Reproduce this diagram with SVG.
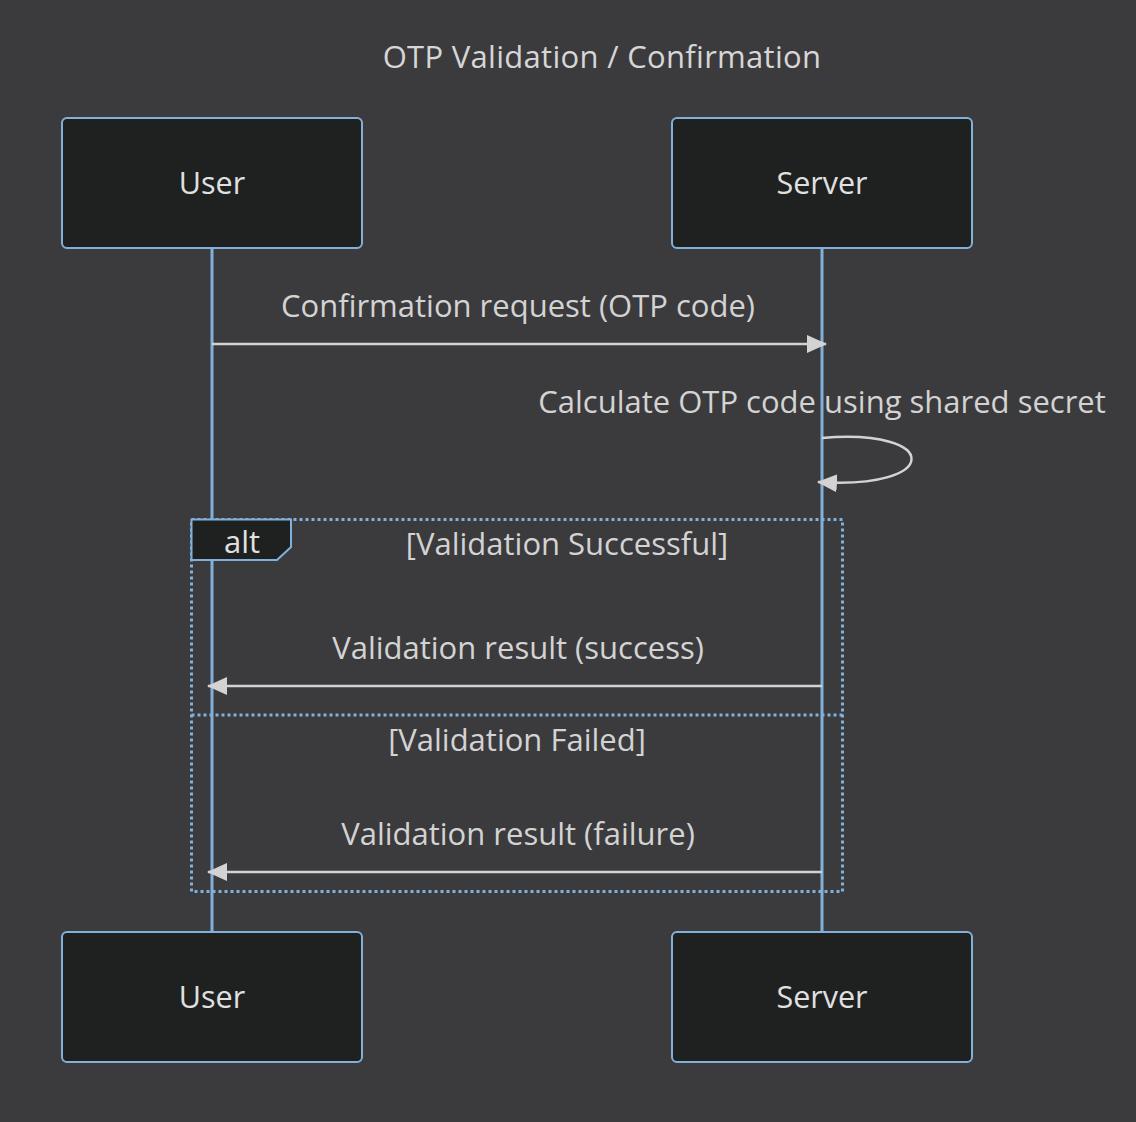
<svg xmlns="http://www.w3.org/2000/svg" width="1136" height="1122" viewBox="0 0 1136 1122">
<style>
.actor{fill:#1f2020;stroke:#81B1DB;stroke-width:2}
.atext{font-family:"Open Sans","Liberation Sans",sans-serif;font-size:30.5px;fill:#e0e0e0;text-anchor:middle;dominant-baseline:central}
.life{stroke:#81B1DB;stroke-width:3}
.msg{stroke:#d3d3d3;stroke-width:2.5;fill:none}
.mtext{font-family:"Open Sans","Liberation Sans",sans-serif;font-size:31px;fill:#d3d3d3;text-anchor:middle;dominant-baseline:central}
.loop{stroke:#81B1DB;stroke-width:3;fill:none;stroke-dasharray:3,3}
</style>
<defs>
<marker id="ah" markerWidth="20" markerHeight="20" refX="19" refY="9" orient="auto" markerUnits="userSpaceOnUse" viewBox="0 0 20 18">
<path d="M0,0 L20,9 L0,18 z" fill="#d3d3d3"/>
</marker>
</defs>
<rect width="1136" height="1122" fill="#3b3b3d"/>
<text x="602" y="56" class="mtext" style="fill:#d6d6d6;letter-spacing:0.3px">OTP Validation / Confirmation</text>
<g id="lifelines">
<line class="life" x1="212" y1="248" x2="212" y2="932"/>
<line class="life" x1="822" y1="248" x2="822" y2="932"/>
</g>
<g id="alt-frame">
<rect class="loop" x="191.5" y="519.5" width="651" height="372"/>
<line class="loop" x1="191.5" y1="715" x2="842.5" y2="715"/>
<polygon points="191.5,519.5 291,519.5 291,547 277,560 191.5,560" fill="#1f2020" stroke="#81B1DB" stroke-width="2"/>
<text x="242" y="541" class="mtext" style="fill:#e0e0e0">alt</text>
<text x="567" y="543" class="mtext">[Validation Successful]</text>
<text x="517" y="739" class="mtext">[Validation Failed]</text>
</g>
<g id="actor-user-top"><rect class="actor" x="62" y="118" width="300" height="130" rx="5"/><text x="212" y="182" class="atext">User</text></g>
<g id="actor-server-top"><rect class="actor" x="672" y="118" width="300" height="130" rx="5"/><text x="822" y="182" class="atext">Server</text></g>
<g id="actor-user-bottom"><rect class="actor" x="62" y="932" width="300" height="130" rx="5"/><text x="212" y="996" class="atext">User</text></g>
<g id="actor-server-bottom"><rect class="actor" x="672" y="932" width="300" height="130" rx="5"/><text x="822" y="996" class="atext">Server</text></g>
<g id="connectors">
<line class="msg" x1="212" y1="344" x2="826" y2="344" marker-end="url(#ah)"/>
<text x="518" y="305" class="mtext">Confirmation request (OTP code)</text>
<path class="msg" d="M822,438 C942,428 942,490 818,482" marker-end="url(#ah)"/>
<text x="822" y="401" class="mtext">Calculate OTP code using shared secret</text>
<line class="msg" x1="822" y1="686" x2="208" y2="686" marker-end="url(#ah)"/>
<text x="518" y="647" class="mtext">Validation result (success)</text>
<line class="msg" x1="822" y1="872" x2="208" y2="872" marker-end="url(#ah)"/>
<text x="518" y="833" class="mtext">Validation result (failure)</text>
</g>
</svg>
